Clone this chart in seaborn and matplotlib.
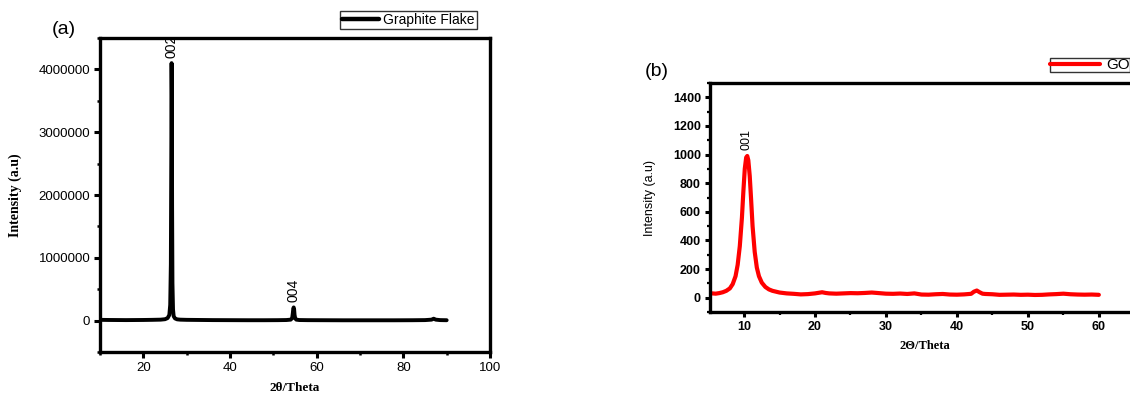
import matplotlib
matplotlib.use("Agg")
import matplotlib.pyplot as plt
from matplotlib.ticker import MultipleLocator, FuncFormatter
import seaborn as sns
import pandas as pd

# --- Graphite flake XRD pattern ---
gf_two_theta = [10.0, 12.0, 14.0, 16.0, 18.0, 20.0, 22.0, 24.0, 25.0, 25.6, 26.0, 26.2, 26.35,
                26.45, 26.52, 26.58, 26.64, 26.72, 26.85, 27.0, 27.3, 27.8, 28.5, 30.0, 33.0,
                36.0, 40.0, 44.0, 48.0, 51.0, 53.0, 54.0, 54.35, 54.5, 54.6, 54.7, 54.8, 54.9,
                55.05, 55.3, 56.0, 58.0, 62.0, 66.0, 70.0, 74.0, 78.0, 82.0, 85.0, 86.5, 87.0,
                87.5, 88.5, 90.0]
gf_intensity = [12000, 10000, 9000, 8000, 9000, 10000, 12000, 15000, 22000, 40000, 90000,
                250000, 900000, 2600000, 4100000, 3600000, 1800000, 600000, 180000, 70000,
                35000, 20000, 15000, 12000, 10000, 8000, 7000, 6000, 6000, 7000, 9000, 15000,
                40000, 120000, 190000, 210000, 180000, 90000, 35000, 15000, 9000, 7000, 6000,
                5000, 5000, 5000, 5000, 6000, 8000, 15000, 30000, 15000, 8000, 6000]

# --- Graphene oxide XRD pattern ---
go_two_theta = [5.0, 5.5, 6.0, 6.5, 7.0, 7.5, 8.0, 8.4, 8.8, 9.1, 9.4, 9.7, 9.9, 10.1, 10.3,
                10.45, 10.6, 10.8, 11.0, 11.2, 11.5, 11.8, 12.1, 12.5, 13.0, 13.5, 14.0, 15.0,
                16.0, 17.0, 18.0, 19.0, 20.0, 20.5, 21.0, 21.5, 22.0, 23.0, 24.0, 25.0, 26.0,
                27.0, 28.0, 29.0, 30.0, 31.0, 32.0, 33.0, 34.0, 35.0, 36.0, 37.0, 38.0, 39.0,
                40.0, 41.0, 42.0, 42.4, 42.8, 43.2, 43.6, 44.0, 45.0, 46.0, 47.0, 48.0, 49.0,
                50.0, 51.0, 52.0, 53.0, 54.0, 55.0, 56.0, 57.0, 58.0, 59.0, 60.0]
go_intensity = [32, 30, 28, 32, 38, 48, 65, 95, 150, 230, 360, 560, 740, 900, 980,
                990, 960, 850, 680, 500, 320, 210, 150, 105, 75, 58, 48, 36,
                30, 27, 23, 25, 30, 34, 38, 33, 30, 28, 30, 32, 31,
                33, 36, 32, 28, 27, 29, 26, 30, 22, 21, 24, 26, 22,
                21, 23, 27, 42, 50, 38, 28, 26, 24, 20, 21, 22, 20,
                21, 19, 20, 23, 25, 28, 24, 22, 21, 22, 20]

df_gf = pd.DataFrame({"two_theta": gf_two_theta, "intensity": gf_intensity, "sample": "Graphite Flake"})
df_go = pd.DataFrame({"two_theta": go_two_theta, "intensity": go_intensity, "sample": "GO"})

sns.set_style("ticks")
plt.rcParams["font.family"] = ["Liberation Sans", "DejaVu Sans"]
plt.rcParams.update({
    "text.color": "black", "axes.labelcolor": "black", "axes.edgecolor": "black",
    "xtick.color": "black", "ytick.color": "black",
})

W, H = 1130, 396
fig = plt.figure(figsize=(W / 100, H / 100), dpi=100)

def frac(x0, y0, x1, y1):
    return [x0 / W, 1 - y1 / H, (x1 - x0) / W, (y1 - y0) / H]

serif_bold = dict(family=["Liberation Serif", "DejaVu Serif"], fontweight="bold")
narrow = ["Liberation Sans Narrow", "Liberation Sans", "DejaVu Sans"]

# ---------------- panel (a) ----------------
ax1 = fig.add_axes(frac(100, 38, 490, 352))
sns.lineplot(data=df_gf, x="two_theta", y="intensity", hue="sample",
             palette={"Graphite Flake": "black"}, linewidth=2.8, ax=ax1)
ax1.set_xlim(10, 100)
ax1.set_ylim(-500000, 4500000)
ax1.set_xticks([20, 40, 60, 80, 100])
ax1.xaxis.set_minor_locator(MultipleLocator(10))
ax1.set_yticks([0, 1000000, 2000000, 3000000, 4000000])
ax1.yaxis.set_minor_locator(MultipleLocator(500000))
ax1.yaxis.set_major_formatter(FuncFormatter(lambda v, p: f"{int(round(v))}"))
ax1.tick_params(which="major", direction="out", length=4, width=2.2, labelsize=9.5, pad=3)
ax1.tick_params(which="minor", direction="out", length=2.5, width=1.8)
for s in ax1.spines.values():
    s.set_visible(True)
    s.set_linewidth(2.4)
ax1.set_xlabel("2θ/Theta", fontsize=9.5, **serif_bold)
ax1.xaxis.set_label_coords(0.5, -0.095)
ax1.set_ylabel("Intensity (a.u)", fontsize=10, labelpad=12, **serif_bold)
ax1.text(26.6, 4180000, "002", rotation=90, ha="center", va="bottom", fontsize=10)
ax1.text(54.7, 300000, "004", rotation=90, ha="center", va="bottom", fontsize=10)
leg1 = ax1.legend(loc="upper right", bbox_to_anchor=(477 / W, 1 - 11 / H),
                  bbox_transform=fig.transFigure, fontsize=10, frameon=True,
                  fancybox=False, edgecolor="black", handlelength=2.6,
                  borderpad=0.15, handletextpad=0.35, borderaxespad=0)
leg1.get_frame().set_linewidth(1.0)
for ln in leg1.get_lines():
    ln.set_linewidth(3.2)
fig.text(52 / W, 1 - 30 / H, "(a)", fontsize=14, va="center", ha="left")

# ---------------- panel (b) ----------------
ax2 = fig.add_axes(frac(710, 83, 1140, 312))
sns.lineplot(data=df_go, x="two_theta", y="intensity", hue="sample",
             palette={"GO": "#ff0000"}, linewidth=3.0, ax=ax2)
ax2.set_xlim(5.2, 65.8)
ax2.set_ylim(-100, 1500)
ax2.set_xticks([10, 20, 30, 40, 50, 60])
ax2.xaxis.set_minor_locator(MultipleLocator(5))
ax2.set_yticks([0, 200, 400, 600, 800, 1000, 1200, 1400])
ax2.yaxis.set_minor_locator(MultipleLocator(100))
ax2.tick_params(which="major", direction="out", length=3.5, width=2.2, labelsize=9, pad=3)
ax2.tick_params(which="minor", direction="out", length=2, width=1.6)
for lab in ax2.get_xticklabels() + ax2.get_yticklabels():
    lab.set_fontweight("bold")
for s in ax2.spines.values():
    s.set_visible(True)
    s.set_linewidth(2.4)
ax2.set_xlabel("2Θ/Theta", fontsize=9, labelpad=5, **serif_bold)
ax2.set_ylabel("Intensity (a.u)", fontsize=9, labelpad=12, family=narrow)
ax2.text(10.4, 1030, "001", rotation=90, ha="center", va="bottom", fontsize=9, family=narrow)
leg2 = ax2.legend(loc="upper left", bbox_to_anchor=(1050 / W, 1 - 58 / H),
                  bbox_transform=fig.transFigure, fontsize=11, frameon=True,
                  fancybox=False, edgecolor="black", handlelength=3.3,
                  borderpad=0.0, handletextpad=0.4, borderaxespad=0)
leg2.get_frame().set_linewidth(1.0)
for ln in leg2.get_lines():
    ln.set_linewidth(3.0)
fig.text(645 / W, 1 - 72 / H, "(b)", fontsize=14, va="center", ha="left")

fig.savefig("out.png", dpi=100)
